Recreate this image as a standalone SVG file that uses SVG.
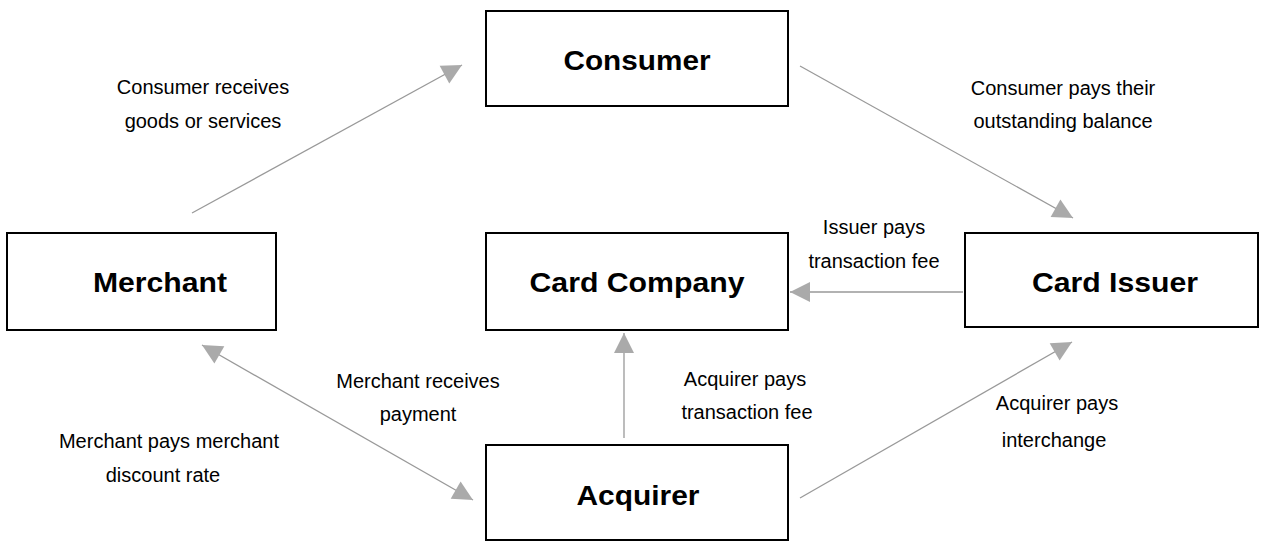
<svg xmlns="http://www.w3.org/2000/svg" width="1264" height="542" viewBox="0 0 1264 542">
<style>
.box{fill:#fff;stroke:#000;stroke-width:2}
.nt{font-family:"Liberation Sans",Arial,sans-serif;font-weight:bold;font-size:27px;text-anchor:middle;fill:#000}
.lb{font-family:"Liberation Sans",Arial,sans-serif;font-size:20px;text-anchor:middle;fill:#000}
.cn{stroke:#999;stroke-width:1.3;fill:none;marker-end:url(#ah)}
</style>
<defs>
<marker id="ah" markerUnits="userSpaceOnUse" markerWidth="22" markerHeight="22" viewBox="0 0 22 22" refX="21" refY="11" orient="auto-start-reverse">
<path d="M1,1 L21,11 L1,21 Z" fill="#aaa"/>
</marker>
</defs>
<rect width="1264" height="542" fill="#fff"/>
<g id="connectors">
<line class="cn" x1="192" y1="213" x2="462" y2="65"/>
<line class="cn" x1="800" y1="66" x2="1073" y2="218"/>
<line class="cn" x1="963" y1="292" x2="790" y2="292"/>
<line class="cn" x1="624" y1="438" x2="624" y2="333"/>
<line class="cn" x1="202" y1="345" x2="473" y2="500" style="marker-start:url(#ah)"/>
<line class="cn" x1="800" y1="498" x2="1072" y2="342"/>
</g>
<g id="consumer">
<rect class="box" x="486" y="11" width="302" height="95"/>
<text class="nt" x="637" y="70" textLength="147" lengthAdjust="spacingAndGlyphs">Consumer</text>
</g>
<g id="merchant">
<rect class="box" x="7" y="233" width="269" height="97"/>
<text class="nt" x="160" y="292" textLength="134" lengthAdjust="spacingAndGlyphs">Merchant</text>
</g>
<g id="card-company">
<rect class="box" x="486" y="233" width="302" height="97"/>
<text class="nt" x="637" y="292" textLength="215" lengthAdjust="spacingAndGlyphs">Card Company</text>
</g>
<g id="card-issuer">
<rect class="box" x="965" y="233" width="293" height="94"/>
<text class="nt" x="1115" y="292" textLength="166" lengthAdjust="spacingAndGlyphs">Card Issuer</text>
</g>
<g id="acquirer">
<rect class="box" x="486" y="445" width="302" height="95"/>
<text class="nt" x="638" y="505" textLength="123" lengthAdjust="spacingAndGlyphs">Acquirer</text>
</g>
<g id="labels">
<text class="lb" x="203" y="94">Consumer receives</text>
<text class="lb" x="203" y="128">goods or services</text>
<text class="lb" x="1063" y="95">Consumer pays their</text>
<text class="lb" x="1063" y="128">outstanding balance</text>
<text class="lb" x="874" y="234">Issuer pays</text>
<text class="lb" x="874" y="268">transaction fee</text>
<text class="lb" x="418" y="388">Merchant receives</text>
<text class="lb" x="418" y="421">payment</text>
<text class="lb" x="745" y="386">Acquirer pays</text>
<text class="lb" x="747" y="419">transaction fee</text>
<text class="lb" x="169" y="448">Merchant pays merchant</text>
<text class="lb" x="163" y="482">discount rate</text>
<text class="lb" x="1057" y="410">Acquirer pays</text>
<text class="lb" x="1054" y="447">interchange</text>
</g>
</svg>
